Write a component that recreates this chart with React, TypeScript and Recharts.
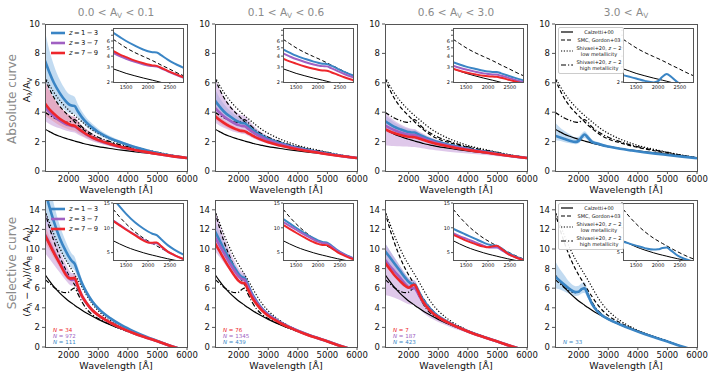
import React from "react";
import { ComposedChart, Line, Area, XAxis, YAxis } from "recharts";

// wavelength grid [Å]
const WAVE = [1200, 1350, 1500, 1700, 1900, 2000, 2100, 2200, 2300, 2450, 2600, 2800, 3000, 3400, 3800, 4200, 4600, 5000, 5500, 6000];
const X_TICKS = [2000, 3000, 4000, 5000, 6000];
const INSET_X_TICKS = [1500, 2000, 2500];

// literature curves, absolute A_lambda/A_V
const CALZ_ABS = [2.85, 2.68, 2.52, 2.36, 2.22, 2.16, 2.1, 2.04, 1.98, 1.9, 1.82, 1.74, 1.66, 1.53, 1.42, 1.32, 1.23, 1.14, 1.01, 0.89];
const SMC_ABS = [6.3, 5.6, 5.0, 4.4, 3.95, 3.75, 3.55, 3.35, 3.15, 2.9, 2.65, 2.38, 2.18, 1.92, 1.7, 1.52, 1.36, 1.21, 1.05, 0.9];
const SHL_ABS = [6.4, 5.85, 5.35, 4.8, 4.35, 4.15, 3.95, 3.78, 3.6, 3.35, 3.1, 2.8, 2.56, 2.17, 1.87, 1.63, 1.45, 1.28, 1.08, 0.9];
const SHH_ABS = [4.0, 3.8, 3.62, 3.45, 3.32, 3.3, 3.42, 3.5, 3.35, 3.0, 2.75, 2.5, 2.3, 2.0, 1.75, 1.56, 1.41, 1.26, 1.06, 0.9];

// literature curves, selective (A_l - A_V)/(A_B - A_V)
const CALZ_SEL = [7.4, 6.75, 6.15, 5.5, 4.95, 4.7, 4.48, 4.27, 4.05, 3.75, 3.47, 3.13, 2.82, 2.28, 1.82, 1.4, 1.0, 0.58, 0.02, -0.45];
const SMC_SEL = [13.8, 12.2, 10.8, 9.2, 7.9, 7.35, 6.85, 6.35, 5.85, 5.15, 4.5, 3.75, 3.2, 2.5, 1.9, 1.4, 1.0, 0.6, 0.05, -0.4];
const SHL_SEL = [13.9, 12.7, 11.5, 10.1, 8.9, 8.4, 7.9, 7.4, 6.9, 6.1, 5.3, 4.4, 3.7, 2.7, 2.0, 1.45, 1.0, 0.6, 0.05, -0.4];
const SHH_SEL = [6.9, 6.5, 6.1, 5.7, 5.55, 5.6, 5.85, 6.0, 5.5, 4.6, 3.9, 3.3, 2.9, 2.3, 1.8, 1.35, 0.95, 0.55, 0.05, -0.4];

// absolute curves, 0.0 < Av < 0.1
const ABS1_BLUE = [7.5, 6.7, 6.0, 5.3, 4.75, 4.55, 4.45, 4.42, 4.1, 3.65, 3.3, 2.95, 2.65, 2.22, 1.92, 1.65, 1.42, 1.22, 1.03, 0.88];
const ABS1_BLUE_LO = [6.0, 5.5, 5.0, 4.5, 4.1, 3.95, 3.9, 3.9, 3.65, 3.3, 3.0, 2.7, 2.45, 2.08, 1.82, 1.58, 1.38, 1.19, 1.01, 0.86];
const ABS1_BLUE_HI = [9.5, 8.2, 7.2, 6.2, 5.5, 5.25, 5.15, 5.05, 4.6, 4.05, 3.62, 3.22, 2.88, 2.38, 2.03, 1.73, 1.47, 1.26, 1.05, 0.9];
const ABS1_PURPLE = [4.35, 4.0, 3.73, 3.43, 3.2, 3.12, 3.06, 3.03, 2.89, 2.67, 2.48, 2.26, 2.09, 1.82, 1.61, 1.44, 1.29, 1.16, 1.01, 0.88];
const ABS1_PURPLE_LO = [3.4, 3.2, 3.05, 2.9, 2.75, 2.7, 2.65, 2.62, 2.5, 2.35, 2.2, 2.03, 1.9, 1.68, 1.5, 1.36, 1.24, 1.12, 0.99, 0.87];
const ABS1_PURPLE_HI = [6.0, 5.4, 4.9, 4.4, 4.0, 3.85, 3.75, 3.7, 3.45, 3.1, 2.85, 2.55, 2.32, 1.98, 1.74, 1.54, 1.36, 1.2, 1.03, 0.89];
const ABS1_RED = [4.6, 4.2, 3.9, 3.55, 3.3, 3.2, 3.12, 3.08, 2.93, 2.7, 2.5, 2.28, 2.1, 1.83, 1.62, 1.45, 1.3, 1.16, 1.01, 0.88];
const ABS1_RED_LO = [3.8, 3.55, 3.35, 3.1, 2.9, 2.83, 2.77, 2.73, 2.6, 2.42, 2.27, 2.08, 1.94, 1.71, 1.53, 1.39, 1.26, 1.13, 0.99, 0.87];
const ABS1_RED_HI = [6.2, 5.5, 5.0, 4.4, 4.0, 3.85, 3.72, 3.65, 3.42, 3.08, 2.8, 2.5, 2.28, 1.96, 1.72, 1.52, 1.35, 1.19, 1.03, 0.89];

// absolute curves, 0.1 < Av < 0.6
const ABS2_BLUE = [4.8, 4.4, 4.05, 3.72, 3.45, 3.35, 3.27, 3.25, 3.1, 2.85, 2.62, 2.38, 2.18, 1.9, 1.67, 1.49, 1.33, 1.18, 1.02, 0.88];
const ABS2_BLUE_LO = [4.2, 3.9, 3.65, 3.38, 3.15, 3.07, 3.0, 2.98, 2.86, 2.65, 2.46, 2.25, 2.07, 1.82, 1.61, 1.45, 1.3, 1.16, 1.01, 0.87];
const ABS2_BLUE_HI = [5.6, 5.0, 4.55, 4.12, 3.78, 3.66, 3.57, 3.55, 3.36, 3.07, 2.8, 2.52, 2.3, 1.98, 1.73, 1.53, 1.36, 1.2, 1.03, 0.89];
const ABS2_PURPLE = [4.3, 3.98, 3.7, 3.42, 3.2, 3.12, 3.06, 3.04, 2.9, 2.68, 2.48, 2.27, 2.09, 1.83, 1.62, 1.45, 1.3, 1.16, 1.01, 0.88];
const ABS2_PURPLE_LO = [3.3, 3.1, 2.95, 2.78, 2.63, 2.58, 2.54, 2.52, 2.42, 2.27, 2.13, 1.98, 1.85, 1.65, 1.49, 1.35, 1.23, 1.11, 0.98, 0.87];
const ABS2_PURPLE_HI = [6.3, 5.6, 5.05, 4.5, 4.05, 3.9, 3.8, 3.76, 3.55, 3.2, 2.9, 2.6, 2.37, 2.03, 1.77, 1.56, 1.38, 1.21, 1.04, 0.89];
const ABS2_RED = [3.75, 3.48, 3.27, 3.03, 2.85, 2.78, 2.73, 2.71, 2.6, 2.43, 2.27, 2.1, 1.95, 1.73, 1.55, 1.4, 1.27, 1.14, 1.0, 0.88];
const ABS2_RED_LO = [3.5, 3.27, 3.08, 2.87, 2.71, 2.65, 2.6, 2.58, 2.48, 2.33, 2.19, 2.03, 1.89, 1.69, 1.52, 1.38, 1.25, 1.13, 0.99, 0.87];
const ABS2_RED_HI = [4.0, 3.7, 3.46, 3.2, 3.0, 2.92, 2.86, 2.84, 2.72, 2.53, 2.36, 2.17, 2.01, 1.77, 1.58, 1.42, 1.29, 1.15, 1.01, 0.89];

// absolute curves, 0.6 < Av < 3.0
const ABS3_BLUE = [3.4, 3.2, 3.02, 2.85, 2.7, 2.65, 2.62, 2.62, 2.52, 2.38, 2.25, 2.1, 1.97, 1.76, 1.58, 1.43, 1.3, 1.17, 1.01, 0.88];
const ABS3_BLUE_LO = [3.1, 2.95, 2.8, 2.66, 2.54, 2.5, 2.47, 2.47, 2.39, 2.27, 2.15, 2.02, 1.9, 1.71, 1.54, 1.4, 1.28, 1.15, 1.0, 0.87];
const ABS3_BLUE_HI = [3.8, 3.55, 3.32, 3.1, 2.92, 2.86, 2.82, 2.8, 2.68, 2.52, 2.37, 2.2, 2.05, 1.82, 1.63, 1.47, 1.33, 1.19, 1.02, 0.89];
const ABS3_PURPLE = [3.1, 2.93, 2.79, 2.64, 2.52, 2.48, 2.45, 2.44, 2.36, 2.25, 2.13, 2.0, 1.89, 1.7, 1.54, 1.4, 1.28, 1.15, 1.0, 0.88];
const ABS3_PURPLE_LO = [1.75, 1.72, 1.7, 1.68, 1.66, 1.65, 1.64, 1.63, 1.6, 1.55, 1.5, 1.44, 1.39, 1.3, 1.22, 1.15, 1.08, 1.01, 0.93, 0.85];
const ABS3_PURPLE_HI = [4.0, 3.7, 3.45, 3.2, 3.0, 2.93, 2.88, 2.86, 2.74, 2.58, 2.42, 2.25, 2.1, 1.86, 1.66, 1.49, 1.35, 1.2, 1.03, 0.89];
const ABS3_RED = [2.85, 2.7, 2.58, 2.46, 2.36, 2.33, 2.31, 2.3, 2.24, 2.14, 2.04, 1.92, 1.82, 1.65, 1.5, 1.37, 1.26, 1.14, 1.0, 0.88];
const ABS3_RED_LO = [2.7, 2.58, 2.47, 2.37, 2.28, 2.25, 2.23, 2.22, 2.17, 2.08, 1.99, 1.88, 1.78, 1.62, 1.48, 1.35, 1.25, 1.13, 0.99, 0.87];
const ABS3_RED_HI = [3.0, 2.82, 2.69, 2.55, 2.44, 2.41, 2.39, 2.38, 2.31, 2.2, 2.09, 1.96, 1.86, 1.68, 1.52, 1.39, 1.27, 1.15, 1.01, 0.89];

// absolute curves, 3.0 < Av
const ABS4_BLUE = [2.4, 2.3, 2.2, 2.06, 1.98, 2.05, 2.3, 2.48, 2.3, 1.98, 1.88, 1.76, 1.67, 1.51, 1.39, 1.28, 1.18, 1.09, 0.98, 0.87];
const ABS4_BLUE_LO = [2.1, 2.05, 1.98, 1.88, 1.82, 1.88, 2.1, 2.25, 2.1, 1.85, 1.77, 1.68, 1.6, 1.46, 1.35, 1.25, 1.16, 1.07, 0.97, 0.86];
const ABS4_BLUE_HI = [3.3, 3.0, 2.75, 2.5, 2.3, 2.33, 2.55, 2.7, 2.52, 2.15, 2.0, 1.86, 1.75, 1.57, 1.43, 1.31, 1.2, 1.11, 0.99, 0.88];

// selective curves, 0.0 < Av < 0.1
const SEL1_BLUE = [16.0, 14.3, 12.8, 11.1, 9.8, 9.25, 8.8, 8.5, 7.7, 6.5, 5.6, 4.65, 3.95, 2.95, 2.2, 1.6, 1.08, 0.62, 0.06, -0.4];
const SEL1_BLUE_LO = [13.0, 12.0, 11.0, 9.8, 8.8, 8.4, 8.05, 7.8, 7.1, 6.1, 5.3, 4.45, 3.8, 2.85, 2.13, 1.55, 1.05, 0.6, 0.05, -0.4];
const SEL1_BLUE_HI = [19.0, 16.6, 14.6, 12.4, 10.8, 10.1, 9.55, 9.2, 8.3, 6.9, 5.9, 4.85, 4.1, 3.05, 2.27, 1.65, 1.11, 0.64, 0.07, -0.4];
const SEL1_PURPLE = [11.5, 10.6, 9.7, 8.6, 7.55, 7.1, 6.85, 6.9, 6.2, 5.2, 4.5, 3.75, 3.25, 2.5, 1.9, 1.4, 0.98, 0.58, 0.05, -0.4];
const SEL1_PURPLE_LO = [9.6, 9.0, 8.4, 7.6, 6.8, 6.45, 6.25, 6.3, 5.7, 4.85, 4.25, 3.57, 3.1, 2.4, 1.83, 1.35, 0.95, 0.56, 0.04, -0.4];
const SEL1_PURPLE_HI = [14.0, 12.6, 11.3, 9.8, 8.5, 7.9, 7.55, 7.55, 6.8, 5.6, 4.8, 3.95, 3.4, 2.6, 1.97, 1.45, 1.01, 0.6, 0.06, -0.4];
const SEL1_RED = [11.4, 10.5, 9.6, 8.5, 7.4, 7.05, 7.0, 7.05, 6.3, 5.2, 4.5, 3.75, 3.25, 2.5, 1.9, 1.4, 0.98, 0.58, 0.05, -0.4];
const SEL1_RED_LO = [10.6, 9.9, 9.1, 8.1, 7.1, 6.8, 6.75, 6.8, 6.1, 5.05, 4.38, 3.66, 3.18, 2.45, 1.86, 1.37, 0.96, 0.57, 0.04, -0.4];
const SEL1_RED_HI = [12.4, 11.3, 10.2, 8.9, 7.75, 7.35, 7.3, 7.3, 6.55, 5.38, 4.63, 3.85, 3.33, 2.55, 1.94, 1.43, 1.0, 0.6, 0.06, -0.4];

// selective curves, 0.1 < Av < 0.6
const SEL2_BLUE = [11.8, 10.9, 10.0, 8.9, 7.9, 7.45, 7.15, 7.05, 6.45, 5.45, 4.7, 3.9, 3.35, 2.55, 1.93, 1.42, 0.99, 0.58, 0.05, -0.4];
const SEL2_BLUE_LO = [11.0, 10.2, 9.45, 8.45, 7.55, 7.12, 6.85, 6.75, 6.2, 5.27, 4.56, 3.8, 3.27, 2.5, 1.9, 1.4, 0.97, 0.57, 0.04, -0.41];
const SEL2_BLUE_HI = [12.8, 11.7, 10.6, 9.35, 8.25, 7.78, 7.45, 7.35, 6.7, 5.63, 4.84, 4.0, 3.43, 2.6, 1.96, 1.44, 1.01, 0.59, 0.06, -0.39];
const SEL2_PURPLE = [11.2, 10.4, 9.6, 8.55, 7.6, 7.2, 6.95, 6.85, 6.25, 5.3, 4.6, 3.82, 3.3, 2.52, 1.91, 1.41, 0.98, 0.58, 0.05, -0.4];
const SEL2_PURPLE_LO = [9.8, 9.2, 8.6, 7.8, 7.0, 6.6, 6.35, 6.3, 5.8, 4.95, 4.35, 3.65, 3.16, 2.44, 1.86, 1.38, 0.96, 0.57, 0.04, -0.4];
const SEL2_PURPLE_HI = [14.0, 12.6, 11.3, 9.8, 8.5, 8.0, 7.7, 7.55, 6.8, 5.7, 4.9, 4.0, 3.45, 2.62, 1.97, 1.45, 1.0, 0.6, 0.06, -0.4];
const SEL2_RED = [10.6, 9.8, 9.0, 8.0, 7.1, 6.75, 6.55, 6.5, 5.95, 5.05, 4.4, 3.68, 3.18, 2.45, 1.87, 1.38, 0.96, 0.57, 0.05, -0.4];

// selective curves, 0.6 < Av < 3.0
const SEL3_BLUE = [9.8, 9.2, 8.6, 7.8, 7.0, 6.65, 6.45, 6.4, 5.9, 5.0, 4.35, 3.65, 3.15, 2.43, 1.86, 1.37, 0.96, 0.57, 0.05, -0.4];
const SEL3_BLUE_LO = [9.0, 8.5, 8.0, 7.3, 6.6, 6.3, 6.12, 6.08, 5.62, 4.8, 4.2, 3.55, 3.07, 2.38, 1.83, 1.35, 0.95, 0.56, 0.04, -0.41];
const SEL3_BLUE_HI = [10.6, 9.9, 9.2, 8.3, 7.4, 7.0, 6.8, 6.75, 6.2, 5.2, 4.5, 3.75, 3.23, 2.48, 1.89, 1.39, 0.97, 0.58, 0.06, -0.39];
const SEL3_PURPLE = [8.9, 8.3, 7.8, 7.1, 6.4, 6.1, 6.0, 6.0, 5.55, 4.75, 4.15, 3.5, 3.05, 2.38, 1.83, 1.35, 0.95, 0.56, 0.05, -0.4];
const SEL3_PURPLE_LO = [5.3, 5.2, 5.05, 4.8, 4.5, 4.35, 4.3, 4.3, 4.05, 3.6, 3.25, 2.85, 2.55, 2.05, 1.62, 1.22, 0.87, 0.52, 0.03, -0.42];
const SEL3_PURPLE_HI = [10.6, 9.9, 9.2, 8.3, 7.4, 7.0, 6.85, 6.8, 6.25, 5.3, 4.6, 3.82, 3.3, 2.52, 1.92, 1.41, 0.99, 0.59, 0.06, -0.39];
const SEL3_RED = [8.6, 8.0, 7.4, 6.75, 6.2, 6.05, 6.25, 6.35, 5.8, 4.8, 4.15, 3.5, 3.05, 2.38, 1.83, 1.35, 0.95, 0.56, 0.05, -0.4];

// selective curves, 3.0 < Av
const SEL4_BLUE = [7.2, 6.8, 6.4, 5.9, 5.6, 5.65, 5.9, 6.0, 5.4, 4.4, 3.75, 3.2, 2.85, 2.3, 1.8, 1.35, 0.95, 0.56, 0.05, -0.4];
const SEL4_BLUE_LO = [6.0, 5.9, 5.7, 5.4, 5.2, 5.25, 5.45, 5.5, 5.0, 4.15, 3.6, 3.1, 2.78, 2.25, 1.77, 1.33, 0.94, 0.55, 0.04, -0.41];
const SEL4_BLUE_HI = [8.8, 8.0, 7.4, 6.6, 6.2, 6.25, 6.5, 6.6, 5.9, 4.7, 3.95, 3.32, 2.93, 2.35, 1.84, 1.37, 0.97, 0.57, 0.06, -0.39];

const AV_RANGES = [["0.0", "0.1"], ["0.1", "0.6"], ["0.6", "3.0"], ["3.0", null]];
const N_COUNTS = [["34", "972", "111"], ["76", "1345", "439"], ["7", "187", "423"], [null, null, "33"]];

const BLUE = "#3a85c5";
const PURPLE = "#a060c2";
const RED = "#ee262b";
const AXIS = "#555";
const FONT = "DejaVu Sans, sans-serif";

type S = { mid: number[]; lo?: number[]; hi?: number[] };
type PanelData = { blue: S; purple?: S; red?: S };
type Ref = { calz: number[]; smc: number[]; shl: number[]; shh: number[] };

const REF_ABS: Ref = { calz: CALZ_ABS, smc: SMC_ABS, shl: SHL_ABS, shh: SHH_ABS };
const REF_SEL: Ref = { calz: CALZ_SEL, smc: SMC_SEL, shl: SHL_SEL, shh: SHH_SEL };

const TOP: PanelData[] = [
  {
    blue: { mid: ABS1_BLUE, lo: ABS1_BLUE_LO, hi: ABS1_BLUE_HI },
    purple: { mid: ABS1_PURPLE, lo: ABS1_PURPLE_LO, hi: ABS1_PURPLE_HI },
    red: { mid: ABS1_RED, lo: ABS1_RED_LO, hi: ABS1_RED_HI },
  },
  {
    blue: { mid: ABS2_BLUE, lo: ABS2_BLUE_LO, hi: ABS2_BLUE_HI },
    purple: { mid: ABS2_PURPLE, lo: ABS2_PURPLE_LO, hi: ABS2_PURPLE_HI },
    red: { mid: ABS2_RED, lo: ABS2_RED_LO, hi: ABS2_RED_HI },
  },
  {
    blue: { mid: ABS3_BLUE, lo: ABS3_BLUE_LO, hi: ABS3_BLUE_HI },
    purple: { mid: ABS3_PURPLE, lo: ABS3_PURPLE_LO, hi: ABS3_PURPLE_HI },
    red: { mid: ABS3_RED, lo: ABS3_RED_LO, hi: ABS3_RED_HI },
  },
  { blue: { mid: ABS4_BLUE, lo: ABS4_BLUE_LO, hi: ABS4_BLUE_HI } },
];

const BOTTOM: PanelData[] = [
  {
    blue: { mid: SEL1_BLUE, lo: SEL1_BLUE_LO, hi: SEL1_BLUE_HI },
    purple: { mid: SEL1_PURPLE, lo: SEL1_PURPLE_LO, hi: SEL1_PURPLE_HI },
    red: { mid: SEL1_RED, lo: SEL1_RED_LO, hi: SEL1_RED_HI },
  },
  {
    blue: { mid: SEL2_BLUE, lo: SEL2_BLUE_LO, hi: SEL2_BLUE_HI },
    purple: { mid: SEL2_PURPLE, lo: SEL2_PURPLE_LO, hi: SEL2_PURPLE_HI },
    red: { mid: SEL2_RED },
  },
  {
    blue: { mid: SEL3_BLUE, lo: SEL3_BLUE_LO, hi: SEL3_BLUE_HI },
    purple: { mid: SEL3_PURPLE, lo: SEL3_PURPLE_LO, hi: SEL3_PURPLE_HI },
    red: { mid: SEL3_RED },
  },
  { blue: { mid: SEL4_BLUE, lo: SEL4_BLUE_LO, hi: SEL4_BLUE_HI } },
];

function buildRows(ref: Ref, p: PanelData) {
  return WAVE.map((w, i) => {
    const row: any = { w, calz: ref.calz[i], smc: ref.smc[i], shl: ref.shl[i], shh: ref.shh[i] };
    (["blue", "purple", "red"] as const).forEach((k) => {
      const s = p[k];
      if (!s) return;
      row[k] = s.mid[i];
      if (s.lo && s.hi) row[k + "Band"] = [s.lo[i], s.hi[i]];
    });
    return row;
  });
}

// layout (page pixels)
const PLOT_W = 142;
const PLOT_H = 147;
const ROW_TOP = [24, 200];
const panelLeft = (i: number) => 45 + 170 * i;
const YW = 30;
const XH = 20;
const PAD = 4;
const RPAD = 14;

const BAND_FILL: Record<string, [string, number]> = {
  blue: ["#8fbde6", 0.55],
  purple: ["#c49ad8", 0.55],
  red: ["#ea8a98", 0.45],
};
const LINE_COLOR: Record<string, string> = { blue: BLUE, purple: PURPLE, red: RED };

function refLines(width: number, all: boolean) {
  const lines = [
    <Line key="calz" dataKey="calz" stroke="#000" strokeWidth={width} dot={false} type="monotone" isAnimationActive={false} />,
    <Line key="smc" dataKey="smc" stroke="#000" strokeWidth={width} strokeDasharray="4 2.4" dot={false} type="monotone" isAnimationActive={false} />,
  ];
  if (all) {
    lines.push(
      <Line key="shl" dataKey="shl" stroke="#000" strokeWidth={width} strokeDasharray="1.2 1.8" dot={false} type="monotone" isAnimationActive={false} />,
      <Line key="shh" dataKey="shh" stroke="#000" strokeWidth={width} strokeDasharray="5 2 1.2 2" dot={false} type="monotone" isAnimationActive={false} />
    );
  }
  return lines;
}

function Frame({ left, top, width, height }: { left: number; top: number; width: number; height: number }) {
  return (
    <div style={{ position: "absolute", left: left - 0.5, top: top - 0.5, width: width + 1, height: height + 1, border: `1px solid ${AXIS}`, boxSizing: "border-box", pointerEvents: "none" }} />
  );
}

function MainPanel({ col, row, data }: { col: number; row: number; data: PanelData }) {
  const rows = buildRows(row === 0 ? REF_ABS : REF_SEL, data);
  const yMax = row === 0 ? 10 : 15;
  const yTicks = row === 0 ? [0, 2, 4, 6, 8, 10] : [0, 2, 4, 6, 8, 10, 12, 14];
  const keys = (["blue", "purple", "red"] as const).filter((k) => data[k]);
  return (
    <>
      <div style={{ position: "absolute", left: panelLeft(col) - YW, top: ROW_TOP[row] - PAD }}>
        <ComposedChart width={YW + PLOT_W + RPAD} height={PAD + PLOT_H + XH} data={rows} margin={{ top: PAD, right: RPAD, bottom: 0, left: 0 }}>
          <XAxis dataKey="w" type="number" domain={[1200, 6000]} ticks={X_TICKS} interval={0} allowDataOverflow height={XH} tickSize={3} axisLine={false} tick={{ fontSize: 8.5, fill: "#111" }} stroke={AXIS} />
          <YAxis type="number" domain={[0, yMax]} ticks={yTicks} interval={0} allowDataOverflow width={YW} tickSize={3} axisLine={false} tick={{ fontSize: 8.5, fill: "#111" }} stroke={AXIS} />
          {keys.filter((k) => data[k]!.lo).map((k) => (
            <Area key={k + "Band"} dataKey={k + "Band"} type="monotone" stroke="none" fill={BAND_FILL[k][0]} fillOpacity={BAND_FILL[k][1]} isAnimationActive={false} />
          ))}
          {refLines(1.2, true)}
          {keys.map((k) => (
            <Line key={k} dataKey={k} stroke={LINE_COLOR[k]} strokeWidth={2.6} dot={false} type="monotone" isAnimationActive={false} />
          ))}
        </ComposedChart>
      </div>
      <Frame left={panelLeft(col)} top={ROW_TOP[row]} width={PLOT_W} height={PLOT_H} />
    </>
  );
}

const IN_W = 70;
const IN_H = [54, 57];
const IN_TOP = [28, 203];
const IYW = 12;
const IXH = 10;

function InsetPanel({ col, row, data }: { col: number; row: number; data: PanelData }) {
  const rows = buildRows(row === 0 ? REF_ABS : REF_SEL, data);
  const left = panelLeft(col) + 68;
  const top = IN_TOP[row];
  const h = IN_H[row];
  const keys = (["blue", "purple", "red"] as const).filter((k) => data[k]);
  const last = col === 3;
  const yFmt = row === 0
    ? (v: number) => (last ? (v === 2 ? "2" : "") : v <= 6 ? String(v) : "")
    : (v: number) => (last ? (v === 5 ? "5" : "") : String(v));
  return (
    <>
      <div style={{ position: "absolute", left, top, width: IN_W, height: h, background: "#fff" }} />
      <div style={{ position: "absolute", left: left - IYW, top: top - 2 }}>
        <ComposedChart width={IYW + IN_W + 6} height={2 + h + IXH} data={rows} margin={{ top: 2, right: 6, bottom: 0, left: 0 }}>
          <XAxis dataKey="w" type="number" domain={[1200, 2800]} ticks={INSET_X_TICKS} interval={0} allowDataOverflow height={IXH} tickSize={2} tickMargin={1} axisLine={false} tick={{ fontSize: 5, fill: "#111" }} stroke={AXIS} />
          {row === 0 ? (
            <YAxis type="number" scale="log" domain={[2, 8.5]} ticks={[2, 3, 4, 5, 6, 7, 8]} interval={0} allowDataOverflow width={IYW} tickSize={2} tickMargin={1} axisLine={false} tick={{ fontSize: 5, fill: "#111" }} tickFormatter={yFmt} stroke={AXIS} />
          ) : (
            <YAxis type="number" domain={[3.5, 15]} ticks={[5, 10, 15]} interval={0} allowDataOverflow width={IYW} tickSize={2} tickMargin={1} axisLine={false} tick={{ fontSize: 5, fill: "#111" }} tickFormatter={yFmt} stroke={AXIS} />
          )}
          {refLines(1, false)}
          {keys.map((k) => (
            <Line key={k} dataKey={k} stroke={LINE_COLOR[k]} strokeWidth={2} dot={false} type="monotone" isAnimationActive={false} />
          ))}
        </ComposedChart>
      </div>
      <Frame left={left} top={top} width={IN_W} height={h} />
    </>
  );
}

function Sub({ children }: { children: React.ReactNode }) {
  return <sub style={{ fontSize: "0.7em", verticalAlign: "-0.25em", lineHeight: 0 }}>{children}</sub>;
}

function VText({ x, y, size, color, children }: { x: number; y: number; size: number; color: string; children: React.ReactNode }) {
  return (
    <div style={{ position: "absolute", left: x, top: y, transform: "translate(-50%, -50%) rotate(-90deg)", whiteSpace: "nowrap", fontSize: size, color, lineHeight: 1 }}>
      {children}
    </div>
  );
}

function ZLegend({ top }: { top: number }) {
  const items: [string, string][] = [["1\u2009−\u20093", BLUE], ["3\u2009−\u20097", PURPLE], ["7\u2009−\u20099", RED]];
  return (
    <div style={{ position: "absolute", left: 51, top, fontSize: 6.8, color: "#111" }}>
      {items.map(([t, c]) => (
        <div key={t} style={{ display: "flex", alignItems: "center", height: 10 }}>
          <svg width={14} height={10}>
            <line x1={0} x2={14} y1={5} y2={5} stroke={c} strokeWidth={2.6} />
          </svg>
          <span style={{ marginLeft: 4, whiteSpace: "nowrap" }}>
            <i>z</i>{"\u2009=\u2009"}{t}
          </span>
        </div>
      ))}
    </div>
  );
}

function RefLegend({ top }: { top: number }) {
  const items: { dash?: string; lines: React.ReactNode[] }[] = [
    { lines: ["Calzetti+00"] },
    { dash: "4 2", lines: ["SMC, Gordon+03"] },
    { dash: "1.2 1.6", lines: [<>Shivaei+20, <i>z</i> ∼ 2</>, "low metallicity"] },
    { dash: "5 2 1.2 2", lines: [<>Shivaei+20, <i>z</i> ∼ 2</>, "high metallicity"] },
  ];
  return (
    <div style={{ position: "absolute", left: 558, top, width: 64, border: "0.8px solid #ccc", borderRadius: 2, background: "rgba(255,255,255,0.9)", fontSize: 5, color: "#111", padding: "1px 0 2px 0", lineHeight: "6px" }}>
      {items.map((it, i) => (
        <div key={i} style={{ display: "flex", alignItems: "center", marginTop: i === 0 ? 0 : 2 }}>
          <svg width={14} height={6} style={{ marginLeft: 2 }}>
            <line x1={0} x2={12} y1={3} y2={3} stroke="#000" strokeWidth={1.2} strokeDasharray={it.dash} />
          </svg>
          <div style={{ flex: 1, textAlign: "center" }}>
            {it.lines.map((l, j) => (
              <div key={j}>{l}</div>
            ))}
          </div>
        </div>
      ))}
    </div>
  );
}

function NLabels({ col }: { col: number }) {
  const counts = N_COUNTS[col];
  const colors = [RED, PURPLE, BLUE];
  return (
    <div style={{ position: "absolute", left: panelLeft(col) + 8, top: 327, fontSize: 5.5, lineHeight: "6px" }}>
      {counts.map((n, i) => (
        <div key={i} style={{ color: colors[i], height: 6 }}>
          {n ? (
            <>
              <i>N</i> = {n}
            </>
          ) : null}
        </div>
      ))}
    </div>
  );
}

export default function App() {
  return (
    <div style={{ position: "absolute", left: 0, top: 0, width: 714, height: 381, background: "#fff", fontFamily: FONT, overflow: "hidden" }}>
      {AV_RANGES.map(([lo, hi], i) => (
        <div key={"t" + i} style={{ position: "absolute", left: panelLeft(i), top: 7, width: PLOT_W, textAlign: "center", fontSize: 10.5, color: "#8a8a8a", lineHeight: 1 }}>
          {lo} &lt; A<Sub>V</Sub>
          {hi ? <> &lt; {hi}</> : null}
        </div>
      ))}
      {TOP.map((d, i) => (
        <MainPanel key={"m0" + i} col={i} row={0} data={d} />
      ))}
      {BOTTOM.map((d, i) => (
        <MainPanel key={"m1" + i} col={i} row={1} data={d} />
      ))}
      {TOP.map((d, i) => (
        <InsetPanel key={"i0" + i} col={i} row={0} data={d} />
      ))}
      {BOTTOM.map((d, i) => (
        <InsetPanel key={"i1" + i} col={i} row={1} data={d} />
      ))}
      {[0, 1, 2, 3].map((i) => (
        <React.Fragment key={"x" + i}>
          <div style={{ position: "absolute", left: panelLeft(i), top: 185, width: PLOT_W, textAlign: "center", fontSize: 9.5, color: "#111", lineHeight: 1 }}>Wavelength [Å]</div>
          <div style={{ position: "absolute", left: panelLeft(i), top: 361, width: PLOT_W, textAlign: "center", fontSize: 9.5, color: "#111", lineHeight: 1 }}>Wavelength [Å]</div>
          <NLabels col={i} />
        </React.Fragment>
      ))}
      <VText x={12} y={99} size={12} color="#8a8a8a">Absolute curve</VText>
      <VText x={27} y={90} size={9.5} color="#111">
        A<Sub>λ</Sub>/A<Sub>V</Sub>
      </VText>
      <VText x={12} y={263} size={12} color="#8a8a8a">Selective curve</VText>
      <VText x={27} y={272} size={9.5} color="#111">
        (A<Sub>λ</Sub> − A<Sub>V</Sub>)/(A<Sub>B</Sub> − A<Sub>V</Sub>)
      </VText>
      <ZLegend top={28} />
      <ZLegend top={204} />
      <RefLegend top={27} />
      <RefLegend top={203} />
    </div>
  );
}
